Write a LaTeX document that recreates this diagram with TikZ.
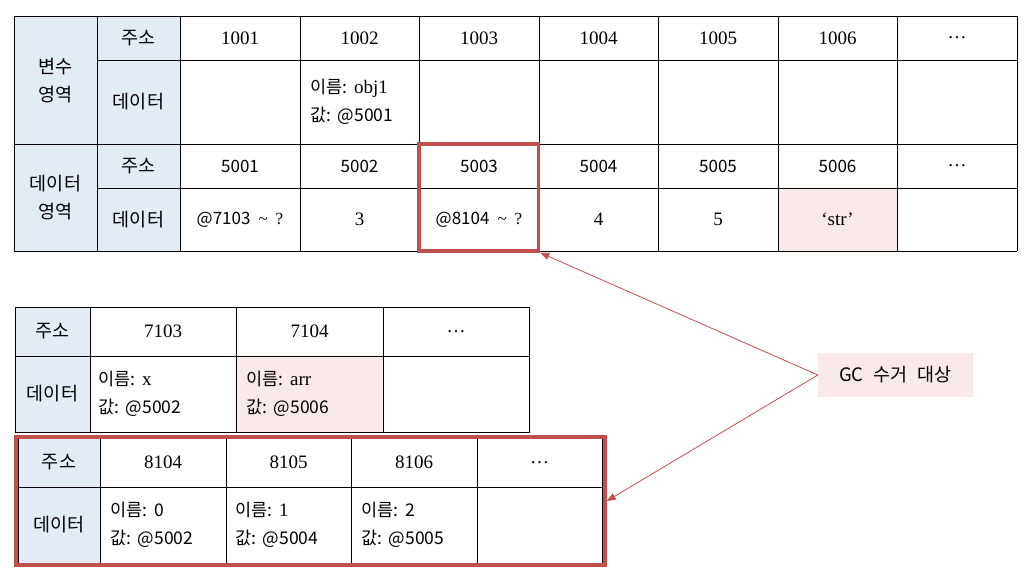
\documentclass[tikz,border=0pt]{standalone}
\usepackage{fontspec}
\setmainfont{Liberation Serif}
\newfontfamily\kr{Noto Sans CJK KR}
\usetikzlibrary{arrows.meta}
\definecolor{hdr}{HTML}{E3EBF5}
\definecolor{pk}{HTML}{F9EAE9}
\definecolor{gcred}{HTML}{C0504D}
\newcommand\tld{\hspace{8pt}{\rmfamily\textasciitilde}\hspace{8pt}{\rmfamily ?}}
\newcommand\sr[1]{{\rmfamily\fontsize{19}{28.5}\selectfont #1}}
\tikzset{
  gridline/.style={line width=0.9pt, draw=black},
  kt/.style={font=\kr\fontsize{18.5}{28}\selectfont, inner sep=0pt, align=center},
  kn/.style={font=\kr\fontsize{17}{17}\selectfont, inner sep=0pt},
  st/.style={font=\fontsize{19}{19}\selectfont, inner sep=0pt},
  two/.style={font=\kr\fontsize{17.5}{28.5}\selectfont, align=left, anchor=west, inner sep=0pt},
  redbox/.style={draw=gcred, line width=3.5pt, inner sep=0pt},
  gcarrow/.style={draw=gcred, line width=0.8pt, -{Triangle[length=9pt,width=7pt]}},
}
\begin{document}
\begin{tikzpicture}[x=1pt,y=-1pt]
\useasboundingbox (0,0) rectangle (1033,576);
% ---------- top table ----------
\fill[hdr] (14,16) rectangle (180,251);
\fill[pk] (778,188) rectangle (897,251);
\draw[gridline] (14,16) -- (1017,16);
\draw[gridline] (97,60) -- (1017,60);
\draw[gridline] (14,144) -- (1017,144);
\draw[gridline] (97,188) -- (1017,188);
\draw[gridline] (14,251) -- (1017,251);
\foreach \x in {14,97,180,300,419,539,658,778,897,1017}
  \draw[gridline] (\x,16) -- (\x,251);
\node[kt] (v0) at (55.5,81) {변수\\영역};
\node[kt] (v1) at (138.5,38) {주소};
\node[kt] (v2) at (138.5,102) {데이터};
\node[kt] (d0) at (55.5,198) {데이터\\영역};
\node[kt] (d1) at (138.5,166) {주소};
\node[kt] (d2) at (138.5,219.5) {데이터};
\foreach \t [count=\i from 0] in {1001,1002,1003,1004,1005,1006,\dots}
  \node[st] (a\i) at ({240+119.5*\i},38) {\t};
\foreach \t [count=\i from 0] in {5001,5002,5003,5004,5005,5006}
  \node[kn] (c\i) at ({240+119.5*\i},166) {\t};
\node[st] (c6) at (957,166) {\dots};
\node[two] (b1) at (310,102) {이름:\,\ \sr{obj1}\\값:\,\ @5001};
\node[kn] (e0) at (240,219.5) {@7103\tld};
\node[st] (e1) at (359.5,219.5) {3};
\node[kn] (e2) at (479,219.5) {@8104\tld};
\node[st] (e3) at (598.5,219.5) {4};
\node[st] (e4) at (718,219.5) {5};
\node[st] (e5) at (837.5,219.5) {‘str’};
% ---------- second table ----------
\fill[hdr] (15,307) rectangle (90,432);
\fill[pk] (236,356) rectangle (383,432);
\draw[gridline] (15,307) rectangle (529,432);
\draw[gridline] (15,356) -- (529,356);
\foreach \x in {90,236,383}
  \draw[gridline] (\x,307) -- (\x,432);
\node[kt] (p0) at (52.5,331.5) {주소};
\node[kt] (p1) at (52.5,394) {데이터};
\node[st] (p2) at (163,331.5) {7103};
\node[st] (p3) at (309.5,331.5) {7104};
\node[st] (p4) at (456,331.5) {\dots};
\node[two] (p5) at (98,394) {이름:\,\ \sr{x}\\값:\,\ @5002};
\node[two] (p6) at (246,394) {이름:\,\ \sr{arr}\\값:\,\ @5006};
% ---------- third table ----------
\fill[hdr] (18,438) rectangle (100,563);
\draw[gridline] (18,438) rectangle (602,563);
\draw[gridline] (18,487) -- (602,487);
\foreach \x in {100,226,351,477}
  \draw[gridline] (\x,438) -- (\x,563);
\node[kt] (q0) at (59,462.5) {주소};
\node[kt] (q1) at (59,525) {데이터};
\node[st] (q2) at (163,462.5) {8104};
\node[st] (q3) at (288.5,462.5) {8105};
\node[st] (q4) at (414,462.5) {8106};
\node[st] (q5) at (539.5,462.5) {\dots};
\node[two] (q6) at (110,525) {이름:\,\ 0\\값:\,\ @5002};
\node[two] (q7) at (235,525) {이름:\,\ \sr{1}\\값:\,\ @5004};
\node[two] (q8) at (361,525) {이름:\,\ 2\\값:\,\ @5005};
% ---------- red boxes ----------
\node[redbox, minimum width=119.5pt, minimum height=107pt] (box1) at (478.75,197.5) {};
\node[redbox, minimum width=589pt, minimum height=128pt] (box2) at (310.5,501) {};
% ---------- GC label ----------
\node[fill=pk, minimum width=155pt, minimum height=44pt, inner sep=0pt,
      font=\kr\fontsize{18.5}{18.5}\selectfont] (gc) at (895.5,375) {GC\hspace{6pt} 수거\hspace{6pt} 대상};
\draw[gcarrow] (gc.west) -- (box1.south east);
\draw[gcarrow] (gc.west) -- (box2.east);
\end{tikzpicture}
\end{document}
